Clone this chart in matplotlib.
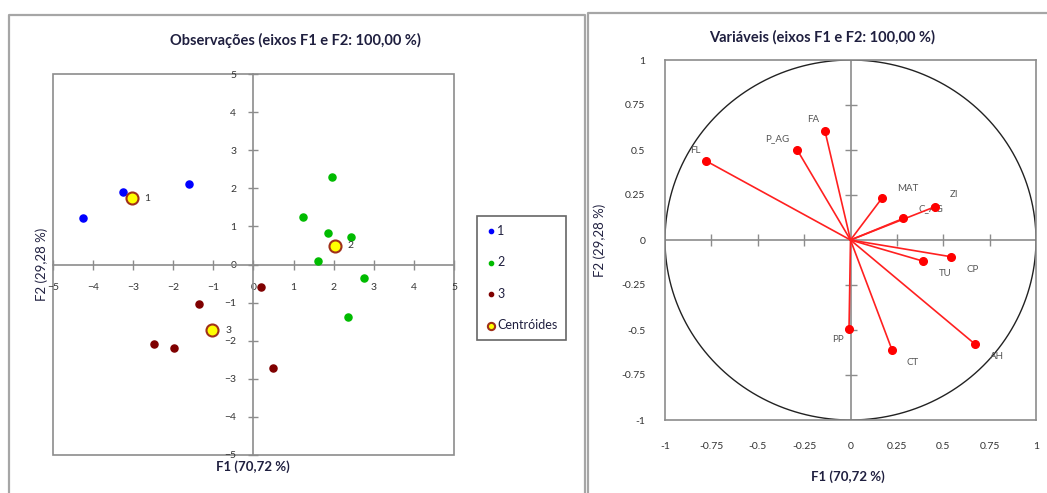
import matplotlib
matplotlib.use('Agg')
import matplotlib.pyplot as plt
import numpy as np
from matplotlib.patches import Rectangle
from matplotlib.lines import Line2D

plt.rcParams['font.family'] = ['Lato', 'DejaVu Sans']

W, H = 1047, 493

# observações (F1, F2) por grupo
g1_x = [-4.25, -3.25, -1.62]
g1_y = [1.22, 1.91, 2.10]
g2_x = [1.97, 1.23, 1.87, 2.43, 1.62, 2.76, 2.36]
g2_y = [2.30, 1.25, 0.83, 0.72, 0.08, -0.36, -1.38]
g3_x = [0.19, -1.37, -2.47, -1.98, 0.48]
g3_y = [-0.59, -1.04, -2.09, -2.20, -2.72]
cent_labels = ['1', '2', '3']
cent_x = [-3.04, 2.03, -1.03]
cent_y = [1.74, 0.49, -1.73]

# variáveis (correlações F1, F2)
var_names = ['FL', 'P_AG', 'FA', 'MAT', 'C_AG', 'ZI', 'TU', 'CP', 'PP', 'CT', 'AH']
var_x = [-0.78, -0.287, -0.138, 0.17, 0.285, 0.456, 0.393, 0.542, -0.008, 0.224, 0.673]
var_y = [0.44, 0.50, 0.607, 0.233, 0.12, 0.185, -0.118, -0.093, -0.494, -0.611, -0.58]
# deslocamento dos rótulos (pixels)
lab_dx = [-10, -20, -12, 26, 28, 19, 22, 22, -11, 21, 22]
lab_dy = [10, 11, 11, 10, 10, 12, -12, -13, -11, -13, -12]

obs_ticks = [-5, -4, -3, -2, -1, 0, 1, 2, 3, 4, 5]
var_ticks = [-1, -0.75, -0.5, -0.25, 0, 0.25, 0.5, 0.75, 1]


def box(x0, y0, x1, y1):
    # pixel box (top-left origin) -> figure fraction
    return [x0 / W, 1 - y1 / H, (x1 - x0) / W, (y1 - y0) / H]


fig = plt.figure(figsize=(W / 100, H / 100), dpi=100)
frame_col = '#a6a6a6'
axis_col = '#8c8c8c'
txt_col = '#1f1f3f'

# moldura dos dois gráficos
fig.add_artist(Line2D([8.5 / W, 8.5 / W, 584.5 / W, 584.5 / W],
                      [0, 1 - 15 / H, 1 - 15 / H, 0], color=frame_col, lw=1.6,
                      transform=fig.transFigure))
fig.add_artist(Line2D([587.5 / W, 587.5 / W, 1.0],
                      [0, 1 - 13 / H, 1 - 13 / H], color=frame_col, lw=1.6,
                      transform=fig.transFigure))

# ---------------- Observações ----------------
ax1 = fig.add_axes(box(53, 74, 454, 455))
ax1.set_xlim(-5, 5)
ax1.set_ylim(-5, 5)
ax1.spines['left'].set_position(('data', 0))
ax1.spines['bottom'].set_position(('data', 0))
ax1.spines['right'].set_visible(False)
ax1.spines['top'].set_visible(False)
for s in ['left', 'bottom']:
    ax1.spines[s].set_color(axis_col)
    ax1.spines[s].set_linewidth(1.2)
ax1.add_patch(Rectangle((0, 0), 1, 1, transform=ax1.transAxes, fill=False,
                        edgecolor=axis_col, lw=1.2, clip_on=False))
ax1.set_xticks(obs_ticks)
ax1.set_yticks(obs_ticks)
ax1.tick_params(axis='both', direction='inout', length=7, width=1,
                color=axis_col, labelsize=7.5, labelcolor='#333333')
ax1.tick_params(axis='x', pad=10)
ax1.tick_params(axis='y', pad=9)
ax1.patch.set_alpha(0)

ax1.scatter(g1_x, g1_y, s=26, color='#0000ff', zorder=3, label='1')
ax1.scatter(g2_x, g2_y, s=26, color='#00bb00', zorder=3, label='2')
ax1.scatter(g3_x, g3_y, s=26, color='#7f0000', zorder=3, label='3')
ax1.scatter(cent_x, cent_y, s=75, color='#ffff00', edgecolor='#a0301a',
            linewidth=1.5, zorder=4, label='Centróides')
for lab, x, y in zip(cent_labels, cent_x, cent_y):
    ax1.annotate(lab, (x, y), xytext=(13, 0), textcoords='offset pixels',
                 fontsize=7.5, color='#333333', va='center', ha='left')

fig.text(295 / W, 1 - 40 / H, 'Observações (eixos F1 e F2: 100,00 %)',
         ha='center', va='center', fontsize=10.5, fontweight='bold', color=txt_col)
fig.text(253 / W, 1 - 467 / H, 'F1 (70,72 %)', ha='center', va='center',
         fontsize=9.5, fontweight='bold', color=txt_col)
fig.text(42 / W, 1 - 264 / H, 'F2 (29,28 %)', ha='center', va='center',
         rotation=90, fontsize=9.5, color=txt_col)

h, l = ax1.get_legend_handles_labels()
leg = ax1.legend(h, l, loc='upper left', bbox_to_anchor=(477 / W, 1 - 216 / H),
                 bbox_transform=fig.transFigure, fontsize=9, handletextpad=0.1,
                 handlelength=0.8, labelspacing=1.55, borderpad=0.7,
                 borderaxespad=0, frameon=True, fancybox=False, markerscale=0.6)
leg.get_frame().set_edgecolor('#404040')
leg.get_frame().set_linewidth(1.2)
for t in leg.get_texts():
    t.set_color(txt_col)

# ---------------- Variáveis ----------------
ax2 = fig.add_axes(box(665, 60, 1036, 420))
ax2.set_xlim(-1, 1)
ax2.set_ylim(-1, 1)
for s in ax2.spines.values():
    s.set_color(axis_col)
    s.set_linewidth(1.2)
ax2.set_xticks(var_ticks)
ax2.set_yticks(var_ticks)
ax2.set_xticklabels([f'{t:g}' for t in var_ticks])
ax2.set_yticklabels([f'{t:g}' for t in var_ticks])
ax2.tick_params(axis='both', length=0, labelsize=7.5, labelcolor='#333333')
ax2.tick_params(axis='x', pad=16)
ax2.tick_params(axis='y', pad=14)
ax2.axhline(0, color=axis_col, lw=1.2, zorder=1)
ax2.axvline(0, color=axis_col, lw=1.2, zorder=1)
inner = [t for t in var_ticks if abs(t) != 1 and t != 0]
ax2.plot(inner, [0] * len(inner), ls='none', marker='|', ms=8, mew=1,
         color=axis_col, zorder=1)
ax2.plot([0] * len(inner), inner, ls='none', marker='_', ms=8, mew=1,
         color=axis_col, zorder=1)

theta = np.linspace(0, 2 * np.pi, 400)
ax2.plot(np.cos(theta), np.sin(theta), color='#222222', lw=1.0, zorder=2)

for name, x, y, dx, dy in zip(var_names, var_x, var_y, lab_dx, lab_dy):
    ax2.plot([0, x], [0, y], color='#ff2020', lw=1.2, zorder=3)
    ax2.plot(x, y, 'o', color='#ff0000', ms=5.5, zorder=4)
    ax2.annotate(name, (x, y), xytext=(dx, dy), textcoords='offset pixels',
                 fontsize=7, color='#555555', ha='center', va='center')

fig.text(822 / W, 1 - 37 / H, 'Variáveis (eixos F1 e F2: 100,00 %)',
         ha='center', va='center', fontsize=10.5, fontweight='bold', color=txt_col)
fig.text(848 / W, 1 - 477 / H, 'F1 (70,72 %)', ha='center', va='center',
         fontsize=9.5, fontweight='bold', color=txt_col)
fig.text(600 / W, 1 - 240 / H, 'F2 (29,28 %)', ha='center', va='center',
         rotation=90, fontsize=9.5, color=txt_col)

fig.savefig('out.png', dpi=100)
